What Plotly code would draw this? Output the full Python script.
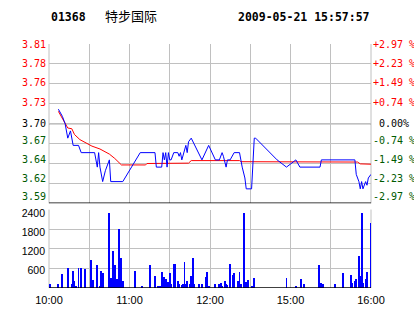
import plotly.graph_objects as go

# ---------------- data ----------------
title_code = "01368"
title_name = "特步国际"
title_time = "2009-05-21 15:57:57"

prev_close = 3.70
price_low = 3.59
price_high = 3.81
left_labels = ["3.59", "3.62", "3.64", "3.67", "3.70", "3.73", "3.76", "3.78", "3.81"]
right_labels = ["-2.97 %", "-2.23 %", "-1.49 %", "-0.74 %", "\u00a00.00%",
                "+0.74 %", "+1.49 %", "+2.23 %", "+2.97 %"]

vol_ticks = [600, 1200, 1800, 2400]
vol_labels = ["600", "1200", "1800", "2400"]

grid_times = ["10:00", "10:30", "11:00", "11:30", "12:00", "12:30", "15:00", "15:30", "16:00"]
time_labels = ["10:00", "", "11:00", "", "12:00", "", "15:00", "", "16:00"]

price_times = ["10:07", "10:10", "10:12", "10:14", "10:16", "10:18", "10:22", "10:24", "10:34",
               "10:35", "10:36", "10:37", "10:38", "10:40", "10:42", "10:45", "10:46", "10:55",
               "11:08", "11:19", "11:20", "11:24", "11:25", "11:26", "11:27", "11:28", "11:29",
               "11:30", "11:31", "11:33", "11:36", "11:37", "11:38", "11:39", "11:41", "11:42",
               "11:43", "11:44", "11:46", "11:54", "11:59", "12:04", "12:07", "12:09", "12:10",
               "12:12", "12:13", "12:15", "12:18", "12:22", "12:24", "12:26", "12:27", "14:31",
               "14:33", "14:34", "14:50", "14:57", "15:04", "15:07", "15:22", "15:23", "15:48",
               "15:49", "15:51", "15:52", "15:53", "15:54", "15:56", "15:57", "15:58", "16:00"]
price_values = [3.72, 3.71, 3.70, 3.68, 3.69, 3.67, 3.67, 3.66, 3.66,
                3.65, 3.64, 3.66, 3.64, 3.62, 3.635, 3.65, 3.62, 3.62,
                3.66, 3.66, 3.64, 3.64, 3.66, 3.65, 3.66, 3.64, 3.66,
                3.65, 3.65, 3.66, 3.66, 3.655, 3.66, 3.65, 3.665, 3.67,
                3.66, 3.675, 3.68, 3.65, 3.67, 3.65, 3.65, 3.66, 3.655,
                3.64, 3.65, 3.65, 3.66, 3.66, 3.64, 3.625, 3.61, 3.61,
                3.68, 3.68, 3.65, 3.64, 3.65, 3.64, 3.64, 3.65, 3.65,
                3.63, 3.62, 3.61, 3.62, 3.61, 3.62, 3.615, 3.625, 3.63]

avg_times = ["10:07", "10:12", "10:14", "10:17", "10:19", "10:23", "10:26", "10:32", "10:38",
             "10:45", "10:49", "10:53", "10:54", "11:12", "11:13", "11:44", "11:46", "12:22",
             "12:23", "15:50", "15:52", "16:00"]
avg_values = [3.717, 3.701, 3.694, 3.693, 3.685, 3.678, 3.675, 3.669, 3.665,
              3.658, 3.652, 3.644, 3.643, 3.643, 3.645, 3.6455, 3.649, 3.649,
              3.6475, 3.647, 3.6445, 3.644]

vol_times = ["10:01", "10:07", "10:10", "10:14", "10:17", "10:18", "10:19", "10:20", "10:22",
             "10:24", "10:27", "10:31", "10:33", "10:36", "10:38", "10:39", "10:40", "10:45",
             "10:46", "10:48", "10:49", "10:51", "10:52", "10:53", "10:54", "10:55", "11:04",
             "11:09", "11:15", "11:19", "11:21", "11:22", "11:23", "11:24", "11:25", "11:26",
             "11:27", "11:28", "11:29", "11:30", "11:31", "11:33", "11:34", "11:36", "11:37",
             "11:39", "11:40", "11:41", "11:42", "11:43", "11:45", "11:46", "11:47", "11:48",
             "11:52", "11:54", "11:57", "11:58", "11:59", "12:04", "12:07", "12:08", "12:09",
             "12:11", "12:12", "12:13", "12:15", "12:17", "12:18", "12:21", "12:22", "12:23",
             "12:25", "12:26", "12:27", "12:28", "14:31", "14:33", "14:57", "15:04", "15:08",
             "15:10", "15:21", "15:22", "15:23", "15:24", "15:33", "15:39", "15:45", "15:46",
             "15:48", "15:49", "15:51", "15:52", "15:53", "15:54", "15:56", "15:57", "16:00"]
vol_values = [150, 150, 430, 620, 150, 520, 220, 70, 620,
              620, 580, 860, 250, 710, 70, 520, 470, 2300,
              330, 1160, 710, 280, 1830, 350, 940, 240, 520,
              70, 730, 370, 90, 70, 60, 500, 320, 340,
              300, 80, 200, 470, 130, 740, 740, 230, 130,
              100, 140, 810, 150, 230, 150, 370, 920, 150,
              130, 130, 340, 500, 80, 130, 130, 170, 70,
              220, 130, 110, 740, 400, 470, 240, 500, 130,
              2300, 130, 200, 250, 70, 310, 310, 70, 280,
              130, 710, 100, 170, 130, 130, 470, 400, 170,
              220, 280, 980, 370, 2320, 170, 280, 500, 2010]


def session_minute(hhmm):
    h, m = map(int, hhmm.split(":"))
    mins = h * 60 + m
    if mins <= 12 * 60 + 30:
        return mins - 10 * 60
    return 150 + mins - (14 * 60 + 30)


RED = "#ff0000"
GREEN = "#005a00"
BLACK = "#000000"
GRID = "#c0c0c0"
BLUE = "#0000ff"

# grid lines are evenly spaced; label anchor points (layout) drift slightly upward at the bottom
price_gridvals = [price_low + i * (price_high - price_low) / 8 for i in range(9)]
price_label_pos = [3.5990, 3.6246, 3.6510, 3.6769, 3.6997, 3.7298, 3.7562, 3.7834, 3.8097]
vol_label_pos = [556, 1133, 1710, 2288]


def col_for(i):
    if i > 4:
        return RED
    if i == 4:
        return BLACK
    return GREEN


left_text = [f'<span style="color:{col_for(i)}">{t}</span>' for i, t in enumerate(left_labels)]
right_text = [f'<span style="color:{col_for(i)}">{t}</span>' for i, t in enumerate(right_labels)]

px = [session_minute(t) for t in price_times]
ax_ = [session_minute(t) for t in avg_times]
vx = [session_minute(t) for t in vol_times]
gx = [session_minute(t) for t in grid_times]

fig = go.Figure()
fig.add_trace(go.Scatter(x=ax_, y=avg_values, mode="lines", line=dict(color=RED, width=1),
                         xaxis="x", yaxis="y", hoverinfo="skip"))
fig.add_trace(go.Scatter(x=px, y=price_values, mode="lines", line=dict(color=BLUE, width=1),
                         xaxis="x", yaxis="y", hoverinfo="skip"))
for yax in ("y3", "y4"):
    fig.add_trace(go.Scatter(x=[0, 240], y=[prev_close, prev_close], mode="lines",
                             line=dict(color="rgba(0,0,0,0)", width=0), xaxis="x", yaxis=yax,
                             hoverinfo="skip"))
fig.add_trace(go.Bar(x=vx, y=vol_values, width=0.7, marker=dict(color=BLUE, line=dict(width=0)),
                     xaxis="x2", yaxis="y2", hoverinfo="skip"))
fig.add_trace(go.Scatter(x=[0, 240], y=[0, 0], mode="lines",
                         line=dict(color="rgba(0,0,0,0)", width=0), xaxis="x2", yaxis="y5",
                         hoverinfo="skip"))

mono = dict(family="DejaVu Sans Mono", size=10, color=BLACK)
sans = dict(family="Liberation Sans, Arial", size=11, color=BLACK)
vfont = dict(family="Liberation Sans, Arial", size=10.5, color=BLACK)

price_dom = [0.347, 1.0]
vol_dom = [0.0, 0.3215]

common = dict(zeroline=False, showline=False, ticks="", automargin=False)

fig.update_layout(
    width=414, height=314,
    margin=dict(l=49, r=43, t=44, b=26, autoexpand=False),
    paper_bgcolor="white", plot_bgcolor="white",
    showlegend=False,
    xaxis=dict(domain=[0, 1], range=[0, 240], anchor="y", tickvals=gx,
               showticklabels=False, showgrid=True, gridcolor=GRID, gridwidth=1, **common),
    xaxis2=dict(domain=[0, 1], range=[0, 240], anchor="y2", tickvals=gx,
                ticktext=time_labels, showgrid=True, gridcolor=GRID, gridwidth=1,
                tickfont=sans, ticklabelstandoff=4, **common),
    yaxis=dict(domain=price_dom, range=[price_low, price_high], tickvals=price_gridvals,
               showticklabels=False, showgrid=True, gridcolor=GRID, gridwidth=1, **common),
    yaxis4=dict(domain=price_dom, range=[price_low, price_high], overlaying="y", side="left",
                anchor="x", tickvals=price_label_pos, ticktext=left_text, showgrid=False,
                tickfont=mono, ticklabelstandoff=2, **common),
    yaxis3=dict(domain=price_dom, range=[price_low, price_high], overlaying="y", side="right",
                anchor="x", tickvals=price_label_pos, ticktext=right_text, showgrid=False,
                tickfont=mono, ticklabelstandoff=1, **common),
    yaxis2=dict(domain=vol_dom, range=[0, 2400], anchor="x2", tickvals=vol_ticks,
                showticklabels=False, showgrid=True, gridcolor=GRID, gridwidth=1, **common),
    yaxis5=dict(domain=vol_dom, range=[0, 2400], overlaying="y2", side="left", anchor="x2",
                tickvals=vol_label_pos, ticktext=vol_labels, showgrid=False,
                tickfont=vfont, ticklabelstandoff=3, **common),
    bargap=0,
)

shapes = [
    # price frame
    dict(type="line", xref="x domain", yref="y domain", x0=0, x1=0, y0=0, y1=1,
         line=dict(color=GRID, width=1), layer="below"),
    dict(type="line", xref="x domain", yref="y domain", x0=1, x1=1, y0=0, y1=1,
         line=dict(color=GRID, width=1), layer="below"),
    dict(type="line", xref="x domain", yref="y", x0=0, x1=1, y0=prev_close, y1=prev_close,
         line=dict(color=BLACK, width=1), layer="below"),
    dict(type="line", xref="x domain", yref="y", x0=0, x1=1, y0=price_low, y1=price_low,
         line=dict(color=BLACK, width=1.5), layer="above"),
    # volume frame
    dict(type="line", xref="x2 domain", yref="y2 domain", x0=0, x1=0, y0=0, y1=1,
         line=dict(color=GRID, width=1), layer="below"),
    dict(type="line", xref="x2 domain", yref="y2 domain", x0=1, x1=1, y0=0, y1=1,
         line=dict(color=GRID, width=1), layer="below"),
    dict(type="line", xref="x2 domain", yref="y2", x0=0, x1=1, y0=0, y1=0,
         line=dict(color=BLACK, width=1.5), layer="above"),
]
fig.update_layout(shapes=shapes)

title_font = dict(family="DejaVu Sans Mono", size=11.5, color=BLACK)
fig.add_annotation(text=f"<b>{title_code}</b>", xref="paper", yref="paper",
                   x=0.0, y=1.112, xanchor="left", yanchor="middle", showarrow=False,
                   font=title_font)
fig.add_annotation(text=title_name, xref="paper", yref="paper",
                   x=0.168, y=1.118, xanchor="left", yanchor="middle", showarrow=False,
                   font=dict(family="Noto Sans CJK SC", size=13, color=BLACK))
fig.add_annotation(text=f"<b>{title_time}</b>", xref="paper", yref="paper",
                   x=0.582, y=1.112, xanchor="left", yanchor="middle", showarrow=False,
                   font=title_font)

fig.write_html("out.html")
